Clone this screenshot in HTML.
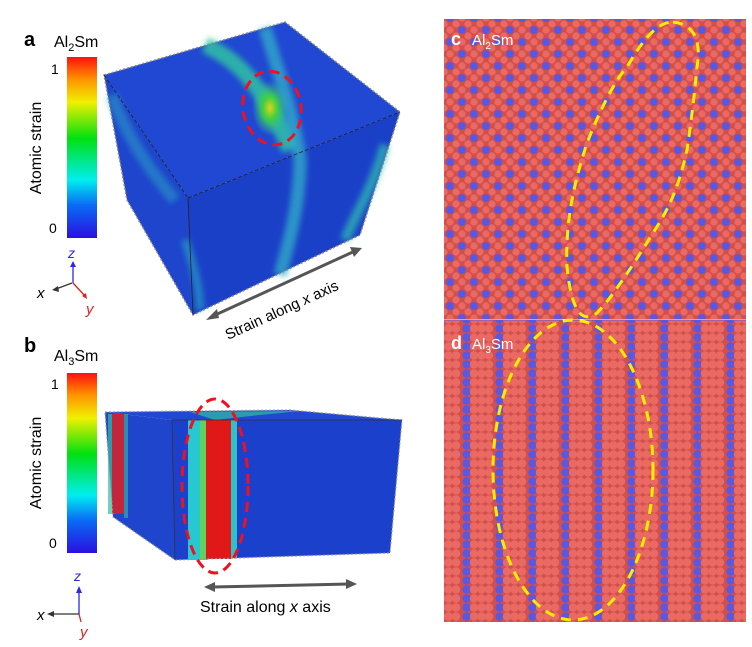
<!DOCTYPE html>
<html><head><meta charset="utf-8"><style>
html,body{margin:0;padding:0;background:#fff;}
svg{display:block;font-family:"Liberation Sans",sans-serif;}
</style></head><body>
<svg width="752" height="647" viewBox="0 0 752 647" xmlns="http://www.w3.org/2000/svg">
<defs>
<linearGradient id="cb" x1="0" y1="1" x2="0" y2="0">
<stop offset="0" stop-color="#2a10e0"/><stop offset="0.18" stop-color="#0a6af5"/>
<stop offset="0.32" stop-color="#00eef0"/><stop offset="0.55" stop-color="#00e010"/>
<stop offset="0.75" stop-color="#f0f000"/><stop offset="0.88" stop-color="#ff9000"/>
<stop offset="1" stop-color="#ff1010"/></linearGradient>
<pattern id="pc" width="24" height="24" patternUnits="userSpaceOnUse">
<rect width="24" height="24" fill="#d24f4c"/>
<circle cx="6" cy="6" r="3.6" fill="#ea6a63"/><circle cx="18" cy="6" r="3.6" fill="#ea6a63"/>
<circle cx="6" cy="18" r="3.6" fill="#ea6a63"/><circle cx="18" cy="18" r="3.6" fill="#ea6a63"/>
<circle cx="0" cy="0" r="3.6" fill="#ea6a63"/><circle cx="12" cy="0" r="3.6" fill="#ea6a63"/><circle cx="24" cy="0" r="3.6" fill="#ea6a63"/>
<circle cx="0" cy="12" r="3.6" fill="#ea6a63"/><circle cx="12" cy="12" r="3.6" fill="#ea6a63"/><circle cx="24" cy="12" r="3.6" fill="#ea6a63"/>
<circle cx="0" cy="24" r="3.6" fill="#ea6a63"/><circle cx="12" cy="24" r="3.6" fill="#ea6a63"/><circle cx="24" cy="24" r="3.6" fill="#ea6a63"/>
<circle cx="6" cy="6" r="4" fill="#5a58e0"/><circle cx="18" cy="18" r="4" fill="#5a58e0"/>
</pattern>
<pattern id="pd" width="33" height="9" patternUnits="userSpaceOnUse">
<rect width="33" height="9" fill="#d24f4c"/>
<circle cx="4.5" cy="4.5" r="4.2" fill="#5a58e0"/>
<circle cx="12" cy="4.5" r="4.2" fill="#ea6a63"/><circle cx="19.5" cy="4.5" r="4.2" fill="#ea6a63"/>
<circle cx="27" cy="4.5" r="4.2" fill="#ea6a63"/>
</pattern>
<radialGradient id="glow"><stop offset="0" stop-color="#e0d020"/><stop offset="0.4" stop-color="#40d040"/><stop offset="1" stop-color="#30c0a0" stop-opacity="0"/></radialGradient>
<filter id="bl" x="-20%" y="-20%" width="140%" height="140%"><feGaussianBlur stdDeviation="3"/></filter>
</defs>

<!-- Panel a -->
<text x="24" y="46" font-size="20" font-weight="bold">a</text>
<text x="54" y="47" font-size="16">Al<tspan font-size="11" dy="4">2</tspan><tspan dy="-4">Sm</tspan></text>
<rect x="67" y="57" width="30" height="181" fill="url(#cb)"/>
<text x="51" y="74" font-size="14">1</text>
<text x="49" y="233" font-size="14">0</text>
<text transform="translate(41,148) rotate(-90)" font-size="16" text-anchor="middle">Atomic strain</text>
<text x="68" y="258" font-size="14" fill="#2a2ae0" font-style="italic">z</text>
<line x1="73" y1="283" x2="73" y2="264" stroke="#2a2ae0" stroke-width="1.3"/><path d="M70,267 L73,261 L76,267Z" fill="#2a2ae0"/>
<line x1="72" y1="283" x2="56" y2="289" stroke="#333" stroke-width="1.3"/><path d="M58,286 L52,290 L59,292Z" fill="#333"/>
<text x="37" y="298" font-size="15" font-style="italic">x</text>
<line x1="73" y1="283" x2="85" y2="296" stroke="#e02020" stroke-width="1.3"/><path d="M82,296 L87,299 L86,293Z" fill="#e02020"/>
<text x="86" y="314" font-size="15" fill="#e02020" font-style="italic">y</text>

<polygon points="104,75 127,200 193,315 188,198" fill="#1e45cc"/>
<polygon points="188,198 400,112 360,235 193,315" fill="#1b40c8"/>
<polygon points="104,75 285,22 400,112 188,198" fill="#2048d2"/>
<g filter="url(#bl)">
<path d="M205,45 C240,60 265,90 290,150" stroke="#30c8a0" stroke-width="16" fill="none" opacity="0.8"/>
<path d="M265,28 C278,70 295,120 300,160 C300,200 290,240 280,275" stroke="#30b0c8" stroke-width="13" fill="none" opacity="0.75"/>
<path d="M385,145 C372,190 355,215 345,240" stroke="#30c0b0" stroke-width="10" fill="none" opacity="0.7"/>
<path d="M112,95 C120,120 140,160 175,200" stroke="#2aa8c8" stroke-width="12" fill="none" opacity="0.5"/>
<path d="M185,240 C195,270 200,290 200,310" stroke="#2ab0c0" stroke-width="8" fill="none" opacity="0.6"/>
</g>
<ellipse cx="270" cy="108" rx="18" ry="28" fill="url(#glow)"/>
<polygon points="104,75 285,22 400,112 360,235 193,315 127,200" fill="none" stroke="#888" stroke-width="1.5" stroke-dasharray="2,2"/>
<line x1="188" y1="198" x2="400" y2="112" stroke="#222" stroke-width="0.8" stroke-dasharray="4,2"/>
<line x1="188" y1="198" x2="193" y2="315" stroke="#222" stroke-width="0.8"/>
<line x1="104" y1="75" x2="188" y2="198" stroke="#222" stroke-width="0.8" stroke-dasharray="4,2"/>
<ellipse cx="272" cy="108" rx="29" ry="37" transform="rotate(-10 272 108)" fill="none" stroke="#f01020" stroke-width="3" stroke-dasharray="10,6"/>
<line x1="213" y1="316" x2="355" y2="251" stroke="#555" stroke-width="3"/>
<path d="M206,320 L217,309 L219,318Z" fill="#555"/><path d="M362,248 L350,247 L354,257Z" fill="#555"/>
<text transform="translate(228,340) rotate(-24.5)" font-size="15">Strain along <tspan font-style="italic">x</tspan> axis</text>

<!-- Panel b -->
<text x="24" y="352" font-size="20" font-weight="bold">b</text>
<text x="54" y="361" font-size="16">Al<tspan font-size="11" dy="4">3</tspan><tspan dy="-4">Sm</tspan></text>
<rect x="67" y="373" width="30" height="180" fill="url(#cb)"/>
<text x="51" y="389" font-size="14">1</text>
<text x="49" y="548" font-size="14">0</text>
<text transform="translate(41,463) rotate(-90)" font-size="16" text-anchor="middle">Atomic strain</text>
<text x="74" y="581" font-size="14" fill="#2a2ae0" font-style="italic">z</text>
<line x1="79" y1="614" x2="79" y2="590" stroke="#2a2ae0" stroke-width="1.3"/><path d="M76,593 L79,586 L82,593Z" fill="#2a2ae0"/>
<line x1="79" y1="614" x2="52" y2="614" stroke="#333" stroke-width="1.3"/><path d="M54,611 L47,614 L54,617Z" fill="#333"/>
<text x="37" y="620" font-size="15" font-style="italic">x</text>
<line x1="79" y1="614" x2="81" y2="622" stroke="#e02020" stroke-width="1.3"/>
<text x="80" y="637" font-size="15" fill="#e02020" font-style="italic">y</text>

<polygon points="105,412 172,420 175,560 113,517" fill="#1e45cc"/>
<polygon points="105,412 290,410 402,420 172,420" fill="#2048d2"/>
<polygon points="172,420 402,420 390,553 175,560" fill="#1b40cc"/>
<rect x="112" y="414" width="12" height="100" fill="#e02020" opacity="0.85"/>
<rect x="108" y="414" width="4" height="100" fill="#30c0a0" opacity="0.7"/>
<rect x="124" y="414" width="4" height="104" fill="#30c0a0" opacity="0.6"/>
<rect x="188" y="420" width="18" height="140" fill="#28c8d0"/>
<rect x="200" y="420" width="8" height="140" fill="#60d060"/>
<rect x="206" y="420" width="25" height="139" fill="#e01818"/>
<rect x="231" y="420" width="6" height="138" fill="#30c0c8"/>
<polygon points="190,412 300,411 260,415 215,420" fill="#30c0a0" opacity="0.7"/>
<polygon points="105,412 290,410 402,420 390,553 175,560 113,517" fill="none" stroke="#999" stroke-width="1.2" stroke-dasharray="2,2"/>
<line x1="172" y1="420" x2="402" y2="420" stroke="#333" stroke-width="0.8"/>
<line x1="172" y1="420" x2="175" y2="560" stroke="#333" stroke-width="0.8"/>
<ellipse cx="215" cy="486" rx="33" ry="87" fill="none" stroke="#f01020" stroke-width="3" stroke-dasharray="10,6"/>
<line x1="212" y1="587" x2="350" y2="584" stroke="#555" stroke-width="3"/>
<path d="M204,587 L215,582 L215,592Z" fill="#555"/><path d="M357,584 L346,579 L346,589Z" fill="#555"/>
<text x="200" y="612" font-size="16">Strain along <tspan font-style="italic">x</tspan> axis</text>

<!-- Panel c -->
<rect x="444" y="19" width="302" height="300" fill="url(#pc)"/>
<text x="451" y="45" font-size="18" font-weight="bold" fill="#fff">c</text>
<text x="472" y="45" font-size="15" fill="#fff">Al<tspan font-size="10" dy="4">2</tspan><tspan dy="-4">Sm</tspan></text>
<path d="M673,22 C700,25 700,50 697,67 C694,100 690,130 687,150 C678,190 668,210 653,233 C630,270 610,300 597,313 C585,322 572,318 567,267 C565,220 575,180 587,143 C600,110 615,80 627,67 C640,45 655,22 673,22Z" fill="none" stroke="#ffee00" stroke-width="3" stroke-dasharray="10,7"/>

<!-- Panel d -->
<rect x="444" y="320" width="302" height="302" fill="url(#pd)"/>
<line x1="444" y1="320" x2="746" y2="320" stroke="#5a58e0" stroke-width="1"/>
<text x="451" y="349" font-size="18" font-weight="bold" fill="#fff">d</text>
<text x="472" y="349" font-size="15" fill="#fff">Al<tspan font-size="10" dy="4">3</tspan><tspan dy="-4">Sm</tspan></text>
<ellipse cx="573" cy="470" rx="80" ry="150" fill="none" stroke="#ffee00" stroke-width="3" stroke-dasharray="10,7"/>
</svg>
</body></html>
